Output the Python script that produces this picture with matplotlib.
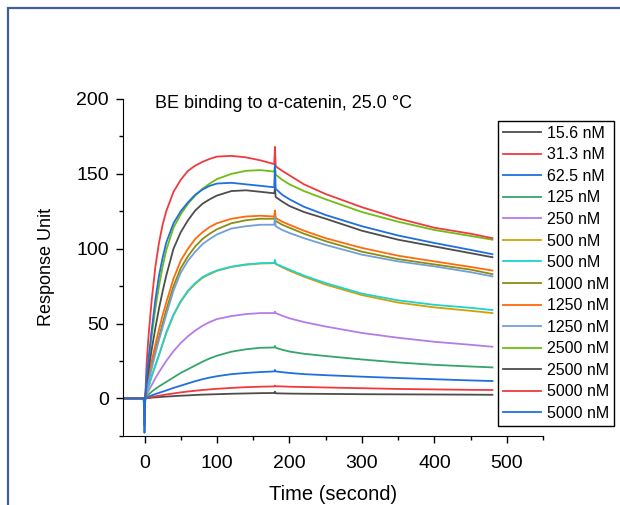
import matplotlib
matplotlib.use('Agg')
import matplotlib.pyplot as plt
from matplotlib.patches import Rectangle
from matplotlib.ticker import MultipleLocator

plt.rcParams['font.family'] = ['Liberation Sans', 'DejaVu Sans']

time = [-28, -1, 0, 1, 3, 5, 7, 10, 15, 20, 25, 30, 40, 50, 60, 70, 80, 90, 100,
        120, 140, 160, 179, 180, 181, 190, 200, 220, 250, 300, 350, 400, 450, 480]

labels = ['15.6 nM', '31.3 nM', '62.5 nM', '125 nM', '250 nM', '500 nM', '500 nM',
          '1000 nM', '1250 nM', '1250 nM', '2500 nM', '2500 nM', '5000 nM', '5000 nM']

colors = ['#4d4d4d', '#f03a3f', '#1f6fe0', '#35a56a', '#b47ce8', '#d4a000', '#1ed2d2',
          '#8c8c12', '#ff6a0a', '#6fa0d8', '#6cbe12', '#4d4d4d', '#f03a3f', '#1f6fe0']

r_15_6 = [0, 0, -3, 0, 0.1, 0.2, 0.3, 0.5, 0.7, 0.9, 1.05, 1.2, 1.5, 1.8, 2.0, 2.3, 2.5, 2.65, 2.8,
          3.1, 3.3, 3.5, 3.6, 4.5, 3.4, 3.3, 3.2, 3.1, 3.0, 2.8, 2.7, 2.6, 2.5, 2.4]
r_31_3 = [0, 0, -4, 0, 0.3, 0.5, 0.7, 1.0, 1.4, 1.8, 2.2, 2.6, 3.3, 4.0, 4.6, 5.1, 5.6, 6.0, 6.4,
          7.0, 7.5, 7.8, 8.0, 8.6, 8.1, 8.0, 7.8, 7.6, 7.3, 6.8, 6.3, 6.0, 5.7, 5.6]
r_62_5 = [0, 0, -6, 0, 0.6, 1.0, 1.4, 2.0, 2.9, 3.7, 4.5, 5.3, 7.0, 8.5, 10.0, 11.5, 12.8, 13.9, 14.8,
          16.2, 17.0, 17.6, 18.0, 19.0, 18.0, 17.5, 17.0, 16.2, 15.5, 14.5, 13.6, 12.8, 12.0, 11.6]
r_125 = [0, 0, -5, 0, 1.4, 2.3, 3.2, 4.5, 6.3, 8.0, 9.5, 11.0, 14.0, 17.0, 19.5, 22.0, 24.5, 26.7, 28.5,
         31.2, 32.8, 33.8, 34.0, 35.0, 33.8, 32.5, 31.3, 29.8, 28.3, 26.0, 24.0, 22.4, 21.3, 20.7]
r_250 = [0, 0, -6, 0, 2.7, 4.5, 6.3, 9.0, 13.5, 17.5, 21.3, 25.0, 31.5, 37.0, 41.5, 45.3, 48.5, 51.0, 53.0,
         55.0, 56.3, 57.0, 57.0, 58.0, 57.0, 55.2, 53.5, 51.0, 48.0, 43.7, 40.5, 37.8, 35.8, 34.5]
r_500a = [0, 0, -8, 0, 4.2, 7.0, 10.0, 15.0, 22.0, 29.0, 36.2, 43.5, 55.5, 64.5, 71.5, 76.5, 80.5, 83.0, 85.2,
          87.8, 89.3, 90.1, 90.3, 92.0, 89.8, 87.5, 85.3, 81.3, 76.0, 69.0, 64.0, 60.8, 58.5, 57.0]
r_500b = [0, 0, -8, 0, 4.2, 7.0, 10.0, 15.0, 22.0, 29.0, 36.5, 44.0, 56.0, 65.0, 72.0, 77.0, 81.0, 83.5, 85.5,
          88.0, 89.5, 90.3, 90.5, 92.5, 90.0, 88.0, 86.0, 82.0, 77.0, 70.0, 65.5, 62.5, 60.5, 59.0]
r_1000 = [0, 0, -10, 0, 6.8, 11, 15.5, 22, 32, 41, 50, 59, 75, 87, 95, 101.5, 106.5, 110, 113,
          117, 119, 120, 120, 123, 118.5, 116, 114, 110, 105, 98, 93, 89.5, 86, 83]
r_1250a = [0, 0, -10, 0, 8, 13, 17.5, 25, 36, 46, 55.5, 64, 80, 92, 100, 106.5, 111, 114.5, 117,
           120, 121.5, 122, 121.5, 125.5, 120.5, 118, 116, 112, 107, 100.5, 95.3, 91.5, 87.8, 85.4]
r_1250b = [0, 0, -12, 0, 6, 10, 14, 20, 30, 39, 47.5, 56, 72, 84, 92, 98, 103, 106.5, 109.5,
           113.5, 115, 116, 116, 121, 115, 112.5, 110.5, 107, 102.5, 96, 91.5, 88.2, 84.3, 81.5]
r_2500a = [0, 0, -15, 0, 13.5, 22, 30, 42, 60, 75, 88, 99, 114, 123, 130, 135.5, 140, 143.5, 146.5,
           150, 152, 152.5, 151.5, 156, 149.5, 146, 143, 138.5, 133, 124.5, 118, 112.5, 108.5, 106]
r_2500b = [0, 0, -12, 0, 10.5, 17, 23.5, 33, 47, 60, 71.5, 82, 100, 111, 119, 125.5, 130, 133, 135.5,
           138.5, 139, 138, 137, 140, 134.5, 131.5, 128.5, 124.5, 120, 112, 106, 101.5, 97, 94.3]
r_5000a = [0, 0, -18, 0, 24, 38, 50, 66, 88, 104, 116, 125, 138, 146, 152, 155.5, 158, 160, 161.5,
           162, 161, 159, 156.5, 168, 155, 152, 149, 143, 136.5, 127.7, 120.2, 114, 110, 107]
r_5000b = [0, 0, -23, 0, 15, 24, 33, 46, 66, 82, 94, 104, 117, 125, 131, 136, 139.5, 142, 143.5,
           144, 143, 142, 141, 156, 140, 136, 133, 128, 122.5, 115, 108.8, 103.8, 99.2, 96.3]

series = [r_15_6, r_31_3, r_62_5, r_125, r_250, r_500a, r_500b,
          r_1000, r_1250a, r_1250b, r_2500a, r_2500b, r_5000a, r_5000b]

fig = plt.figure(figsize=(6.2, 5.05), dpi=100)
ax = fig.add_axes([0.198, 0.137, 0.678, 0.667])

# blue frame around the graph page
fig.patches.append(Rectangle((0.0137, -0.5), 2, 0.984 + 0.5, transform=fig.transFigure,
                             fill=False, edgecolor='#3f5f9c', linewidth=1.6))

for vals, lab, col in zip(series, labels, colors):
    ax.plot(time, vals, color=col, lw=1.3, label=lab)

ax.set_xlim(-30, 550)
ax.set_ylim(-25, 200)
ax.xaxis.set_major_locator(MultipleLocator(100))
ax.xaxis.set_minor_locator(MultipleLocator(50))
ax.yaxis.set_major_locator(MultipleLocator(50))
ax.yaxis.set_minor_locator(MultipleLocator(25))
ax.spines['top'].set_visible(False)
ax.spines['right'].set_visible(False)
ax.tick_params(which='major', direction='out', length=5, width=1, labelsize=14)
ax.tick_params(axis='x', which='major', pad=9)
ax.tick_params(axis='y', which='major', pad=5)
ax.tick_params(which='minor', direction='out', length=3, width=1)

ax.set_xlabel('Time (second)', fontsize=14.5, labelpad=9)
ax.set_ylabel('Response Unit', fontsize=13, labelpad=15)
ax.text(0.076, 0.988, 'BE binding to α-catenin, 25.0 °C', transform=ax.transAxes,
        fontsize=13, ha='left', va='center')

leg = fig.legend(loc='upper right', bbox_to_anchor=(614 / 620, 1 - 121 / 505),
                 fontsize=11.5, frameon=True, fancybox=False, framealpha=1,
                 edgecolor='black', handlelength=2.4, handletextpad=0.37,
                 labelspacing=0.41, borderpad=0.3, borderaxespad=0)
leg.get_frame().set_linewidth(1)

fig.savefig('out.png', dpi=100)
